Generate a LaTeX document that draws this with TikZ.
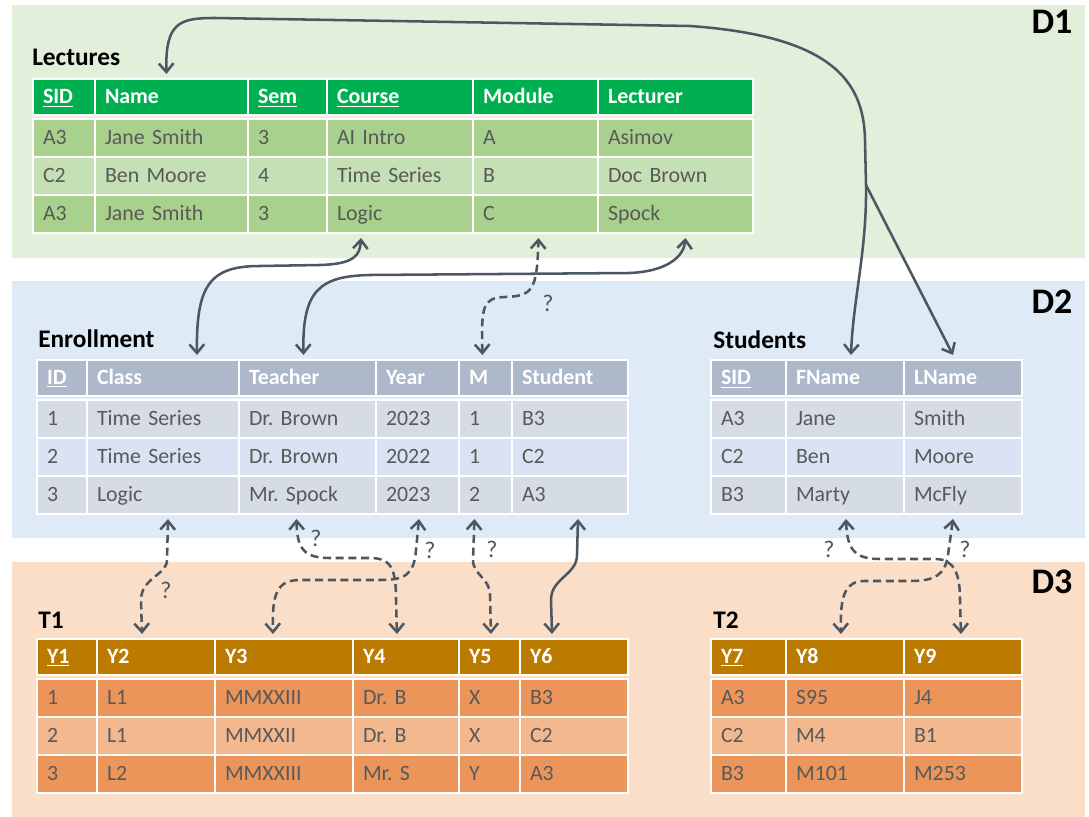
\documentclass[tikz,border=0pt]{standalone}
\usepackage{fontspec}
\setmainfont{Carlito}
\usetikzlibrary{arrows.meta,calc}
\frenchspacing

\definecolor{panelgreen}{HTML}{E2EFDA}
\definecolor{panelblue}{HTML}{DFEAF7}
\definecolor{panelorange}{HTML}{FBDEC8}
\definecolor{lechead}{HTML}{00B050}
\definecolor{lecdark}{HTML}{A9D18E}
\definecolor{leclight}{HTML}{C5E0B4}
\definecolor{enrhead}{HTML}{ADB9CA}
\definecolor{enrdark}{HTML}{D6DCE5}
\definecolor{enrlight}{HTML}{DAE3F3}
\definecolor{thead}{HTML}{BA7B00}
\definecolor{tdark}{HTML}{EB955A}
\definecolor{tlight}{HTML}{F4B88F}
\definecolor{cellgray}{HTML}{595959}
\definecolor{linkgray}{HTML}{4D5761}

\tikzset{
  cell/.style={draw=white, line width=1.5pt, anchor=north west, inner xsep=7.5pt,
    inner ysep=0pt, align=left, text height=10.3pt, text depth=0pt,
    minimum height=28.5pt, font=\fontsize{16.4}{19}\selectfont, text=cellgray},
  head/.style={cell, minimum height=27pt, font=\fontsize{16.4}{19}\selectfont\bfseries, text=white},
  tabtitle/.style={anchor=west, inner sep=0pt, font=\fontsize{19}{22}\selectfont\bfseries},
  dlabel/.style={inner sep=0pt, font=\fontsize{27}{30}\selectfont\bfseries},
  link/.style={draw=linkgray, line width=1.9pt},
  maybe/.style={link, dash pattern=on 6pt off 3.5pt},
  qmark/.style={inner sep=0pt, text=linkgray, font=\fontsize{18}{21}\selectfont}
}

\begin{document}
\begin{tikzpicture}[x=0.75pt, y=-0.75pt, >={Straight Barb[length=6.5pt,width=11pt]}]
\useasboundingbox (0,0) rectangle (1089,817);

% domains
\fill[panelgreen] (12,5) rectangle (1085,258);
\fill[panelblue] (12,281) rectangle (1085,538);
\fill[panelorange] (12,562) rectangle (1085,817);
\node[dlabel] (d1) at (1052,22) {D1};
\node[dlabel] (d2) at (1052,302) {D2};
\node[dlabel] (d3) at (1052,582) {D3};

% Lectures
\node[tabtitle] (lec-title) at (32,57) {Lectures};
\foreach \x/\w/\h/\a/\b/\c [count=\i] in {
  32/62/\underline{SID}/A3/C2/A3,
  94/153/Name/Jane Smith/Ben Moore/Jane Smith,
  247/79/\underline{Sem}/3/4/3,
  326/146/\underline{Course}/AI Intro/Time Series/Logic,
  472/125/Module/A/B/C,
  597/155/Lecturer/Asimov/Doc Brown/Spock} {
  \pgfmathsetmacro\tw{(\w-20)*0.75}
  \node[head, fill=lechead, text width=\tw pt] (lec-h-\i) at (\x,78) {\h};
  \node[cell, fill=lecdark, text width=\tw pt] (lec-1-\i) at (\x,118) {\a};
  \node[cell, fill=leclight, text width=\tw pt] (lec-2-\i) at (\x,156) {\b};
  \node[cell, fill=lecdark, text width=\tw pt] (lec-3-\i) at (\x,194) {\c};
}

% Enrollment
\node[tabtitle] (enr-title) at (38,339) {Enrollment};
\foreach \x/\w/\h/\a/\b/\c [count=\i] in {
  36/50/\underline{ID}/1/2/3,
  86/152/Class/Time Series/Time Series/Logic,
  238/137/Teacher/Dr. Brown/Dr. Brown/Mr. Spock,
  375/83/Year/2023/2022/2023,
  458/53/M/1/1/2,
  511/116/Student/B3/C2/A3} {
  \pgfmathsetmacro\tw{(\w-20)*0.75}
  \node[head, fill=enrhead, text width=\tw pt] (enr-h-\i) at (\x,359) {\h};
  \node[cell, fill=enrdark, text width=\tw pt] (enr-1-\i) at (\x,399) {\a};
  \node[cell, fill=enrlight, text width=\tw pt] (enr-2-\i) at (\x,437) {\b};
  \node[cell, fill=enrdark, text width=\tw pt] (enr-3-\i) at (\x,475) {\c};
}

% Students
\node[tabtitle] (std-title) at (713,340) {Students};
\foreach \x/\w/\h/\a/\b/\c [count=\i] in {
  710/75/\underline{SID}/A3/C2/B3,
  785/118/FName/Jane/Ben/Marty,
  903/118/LName/Smith/Moore/McFly} {
  \pgfmathsetmacro\tw{(\w-20)*0.75}
  \node[head, fill=enrhead, text width=\tw pt] (std-h-\i) at (\x,359) {\h};
  \node[cell, fill=enrdark, text width=\tw pt] (std-1-\i) at (\x,399) {\a};
  \node[cell, fill=enrlight, text width=\tw pt] (std-2-\i) at (\x,437) {\b};
  \node[cell, fill=enrdark, text width=\tw pt] (std-3-\i) at (\x,475) {\c};
}

% T1
\node[tabtitle] (ta-title) at (38,620) {T1};
\foreach \x/\w/\h/\a/\b/\c [count=\i] in {
  36/60/\underline{Y1}/1/2/3,
  96/118/Y2/L1/L1/L2,
  214/138/Y3/MMXXIII/MMXXII/MMXXIII,
  352/106/Y4/Dr. B/Dr. B/Mr. S,
  458/61/Y5/X/X/Y,
  519/108/Y6/B3/C2/A3} {
  \pgfmathsetmacro\tw{(\w-20)*0.75}
  \node[head, fill=thead, text width=\tw pt] (ta-h-\i) at (\x,638) {\h};
  \node[cell, fill=tdark, text width=\tw pt] (ta-1-\i) at (\x,678) {\a};
  \node[cell, fill=tlight, text width=\tw pt] (ta-2-\i) at (\x,716) {\b};
  \node[cell, fill=tdark, text width=\tw pt] (ta-3-\i) at (\x,754) {\c};
}

% T2
\node[tabtitle] (tb-title) at (713,620) {T2};
\foreach \x/\w/\h/\a/\b/\c [count=\i] in {
  710/75/\underline{Y7}/A3/C2/B3,
  785/118/Y8/S95/M4/M101,
  903/118/Y9/J4/B1/M253} {
  \pgfmathsetmacro\tw{(\w-20)*0.75}
  \node[head, fill=thead, text width=\tw pt] (tb-h-\i) at (\x,638) {\h};
  \node[cell, fill=tdark, text width=\tw pt] (tb-1-\i) at (\x,678) {\a};
  \node[cell, fill=tlight, text width=\tw pt] (tb-2-\i) at (\x,716) {\b};
  \node[cell, fill=tdark, text width=\tw pt] (tb-3-\i) at (\x,754) {\c};
}

% known links
\coordinate (split) at (866,185);
\draw[link,<->] ($(lec-h-2.north)+(-5,-4)$) .. controls (165,22) and (180,18) .. (215,18)
  -- (690,26) .. controls (830,36) and (864,80) .. (865,140) -- (split)
  .. controls (867,250) and (853,300) .. ($(std-h-2.north)+(6,-4)$);
\draw[link,->] (split) -- ($(std-h-3.north)+(-10,-4)$);
\draw[link,<->] ($(enr-h-2.north)+(34,-4)$) .. controls (196,285) and (210,266) .. (260,266)
  -- (320,265) .. controls (355,264) and (360,255) .. ($(lec-3-4.south)+(-39,4)$);
\draw[link,<->] ($(enr-h-3.north)+(-4,-4)$) .. controls (302,290) and (320,276) .. (370,275)
  -- (630,273) .. controls (670,271) and (684,255) .. ($(lec-3-6.south)+(10,4)$);
\draw[link,<->] ($(enr-3-6.south)+(8,4)$) -- (577,555) .. controls (577,575) and (551,578)
  .. (551,600) -- ($(ta-h-6.north)+(-22,-4)$);

% guessed links
\draw[maybe,<->] ($(enr-h-5.north)+(-3,-4)$) .. controls (481,305) and (483,298) .. (505,297)
  .. controls (533,296) and (537,290) .. ($(lec-3-5.south)+(3,4)$);
\node[qmark] (q-mod) at (548,303) {?};
\draw[maybe,<->] ($(enr-3-2.south)+(5,4)$) -- (167,560) .. controls (167,575) and (141,578)
  .. (141,600) -- ($(ta-h-2.north)+(-14,-4)$);
\node[qmark] (q-cls) at (166,590) {?};
\draw[maybe,<->] ($(enr-3-3.south)+(-11,4)$) .. controls (297,550) and (305,558) .. (330,558)
  -- (370,558) .. controls (392,558) and (396,570) .. (396,600) -- ($(ta-h-4.north)+(-9,-4)$);
\node[qmark] (q-tch) at (316,538) {?};
\draw[maybe,<->] ($(enr-3-4.south)+(1.5,4)$) -- (416,550) .. controls (414,575) and (405,580)
  .. (380,580) -- (300,580) .. controls (276,580) and (272,595) .. ($(ta-h-3.north)+(-11,-4)$);
\node[qmark] (q-yr) at (430,550) {?};
\draw[maybe,<->] ($(enr-3-5.south)+(-11,4)$) -- (473,560) .. controls (473,575) and (490,578)
  .. (490,595) -- ($(ta-h-5.north)+(1.5,-4)$);
\node[qmark] (q-m) at (492,549) {?};
\draw[maybe,<->] ($(std-3-2.south)+(1,4)$) .. controls (847,550) and (855,559) .. (880,559)
  -- (935,559) .. controls (955,559) and (960,575) .. (960,600) -- ($(tb-h-3.north)+(-2,-4)$);
\node[qmark] (q-fn) at (829,549) {?};
\draw[maybe,<->] ($(std-3-3.south)+(-10,4)$) -- (948,555) .. controls (945,575) and (935,581)
  .. (910,581) -- (865,581) .. controls (845,581) and (840,595) .. ($(tb-h-2.north)+(-4,-4)$);
\node[qmark] (q-ln) at (965,549) {?};
\end{tikzpicture}
\end{document}
